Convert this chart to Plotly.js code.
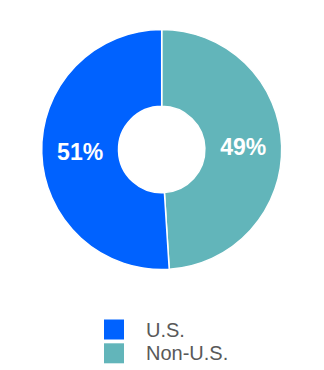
<!DOCTYPE html>
<html><head><meta charset="utf-8">
<script src="https://cdn.plot.ly/plotly-3.0.1.min.js"></script>
<style>html,body{margin:0;padding:0;background:#fff}</style>
</head><body>
<div id="chart" style="width:324px;height:370px"></div>
<script>
const categories = ["U.S.", "Non-U.S."];
const values = [51, 49];
const colors = ["#0062FF", "#62B5BA"];

const W = 324, H = 370;
const px = x => x / W;
const py = y => 1 - y / H;

// slices drawn clockwise from 12 o'clock: Non-U.S. on the right, U.S. on the left
const order = categories.map((c, i) => i).reverse();

const data = [{
  type: "pie",
  labels: order.map(i => categories[i]),
  values: order.map(i => values[i]),
  sort: false,
  direction: "clockwise",
  rotation: 0,
  hole: 0.36,
  marker: {colors: order.map(i => colors[i]), line: {color: "#ffffff", width: 1.5}},
  texttemplate: "%{value}%",
  textposition: "inside",
  insidetextorientation: "horizontal",
  textfont: {family: "Arial, Liberation Sans, sans-serif", size: 23, color: "#ffffff", weight: "bold"},
  hoverinfo: "none",
  showlegend: false,
  domain: {x: [px(41.7), px(281.7)], y: [py(269.5), py(29.5)]}
}];

// legend built from categories / colors
const legendTop = 319.5, rowGap = 23.8, box = 20, boxX = 104, textX = 144;
const shapes = categories.map((c, i) => ({
  type: "rect", xref: "paper", yref: "paper",
  x0: px(boxX), x1: px(boxX + box),
  y0: py(legendTop + i * rowGap + box), y1: py(legendTop + i * rowGap),
  fillcolor: colors[i], line: {width: 0}
}));
const annotations = categories.map((c, i) => ({
  xref: "paper", yref: "paper",
  x: px(textX), y: py(legendTop + i * rowGap + box / 2),
  xanchor: "left", yanchor: "middle",
  text: c, showarrow: false,
  font: {family: "Arial, Liberation Sans, sans-serif", size: 20, color: "#595959"}
}));

const layout = {
  width: W, height: H,
  margin: {l: 0, r: 0, t: 0, b: 0},
  paper_bgcolor: "#ffffff",
  showlegend: false,
  shapes: shapes,
  annotations: annotations
};

Plotly.newPlot("chart", data, layout, {displayModeBar: false, staticPlot: true});
</script>
</body></html>
